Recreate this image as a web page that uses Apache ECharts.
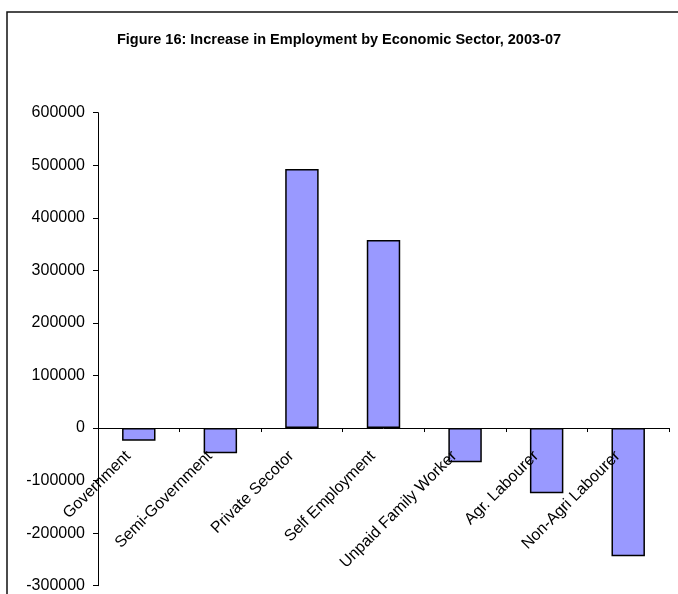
<!DOCTYPE html>
<html>
<head>
<meta charset="utf-8">
<script src="https://cdn.jsdelivr.net/npm/echarts@6/dist/echarts.min.js"></script>
<style>
  html, body { margin: 0; padding: 0; background: #fff; }
  #chart { width: 678px; height: 594px; }
</style>
</head>
<body>
<div id="chart"></div>
<script>
// Change in number employed, 2003-07, by sector
const sectors = [
  'Government',
  'Semi-Government',
  'Private Secotor',
  'Self Employment',
  'Unpaid Family Worker',
  'Agr. Labourer',
  'Non-Agri Labourer'
];
const increase = [-24000, -48000, 493000, 358000, -65000, -124000, -244000];

const yMin = -300000;
const yMax = 600000;
const yStep = 100000;

const FONT = 'Arial, "Liberation Sans", sans-serif';

const GRID_TOP = 112.7;
const GRID_BOTTOM = 8.3;
const PLOT_H = 594 - GRID_TOP - GRID_BOTTOM;
// distance from the bottom of the plot up to the zero line
const zeroLift = PLOT_H * (0 - yMin) / (yMax - yMin);

const chart = echarts.init(document.getElementById('chart'), null, { renderer: 'canvas' });

chart.setOption({
  animation: false,
  backgroundColor: '#ffffff',
  title: {
    text: 'Figure 16: Increase in Employment by Economic Sector, 2003-07',
    left: 'center',
    top: 27,
    textStyle: { fontFamily: FONT, fontSize: 14.5, fontWeight: 'bold', color: '#000' }
  },
  graphic: [{
    type: 'rect',
    shape: { x: 7, y: 12, width: 700, height: 620 },
    style: { fill: 'none', stroke: '#111', lineWidth: 1.5 },
    silent: true
  }],
  grid: {
    left: 98, right: 9, top: GRID_TOP, bottom: GRID_BOTTOM,
    containLabel: false,
    outerBoundsMode: 'none'
  },
  xAxis: {
    type: 'category',
    data: sectors,
    position: 'bottom',
    offset: -zeroLift,
    z: 5,
    axisLine: { onZero: false, lineStyle: { color: '#000', width: 1 } },
    axisTick: { show: true, length: 4, inside: false, lineStyle: { color: '#000' } },
    axisLabel: {
      interval: 0,
      rotate: 45,
      margin: 15,
      padding: [0, 15, 0, 0],
      hideOverlap: false,
      fontFamily: FONT,
      fontSize: 16,
      color: '#000'
    },
    splitLine: { show: false }
  },
  yAxis: {
    type: 'value',
    min: yMin,
    max: yMax,
    interval: yStep,
    axisLine: { show: true, lineStyle: { color: '#000', width: 1 } },
    axisTick: { show: true, length: 5, lineStyle: { color: '#000' } },
    axisLabel: {
      fontFamily: FONT, fontSize: 16, color: '#000', margin: 13,
      formatter: v => String(v)
    },
    splitLine: { show: false }
  },
  series: [{
    type: 'bar',
    data: increase,
    barWidth: '41%',
    itemStyle: { color: '#9999FF', borderColor: '#000', borderWidth: 1.5 }
  }]
});
</script>
</body>
</html>
